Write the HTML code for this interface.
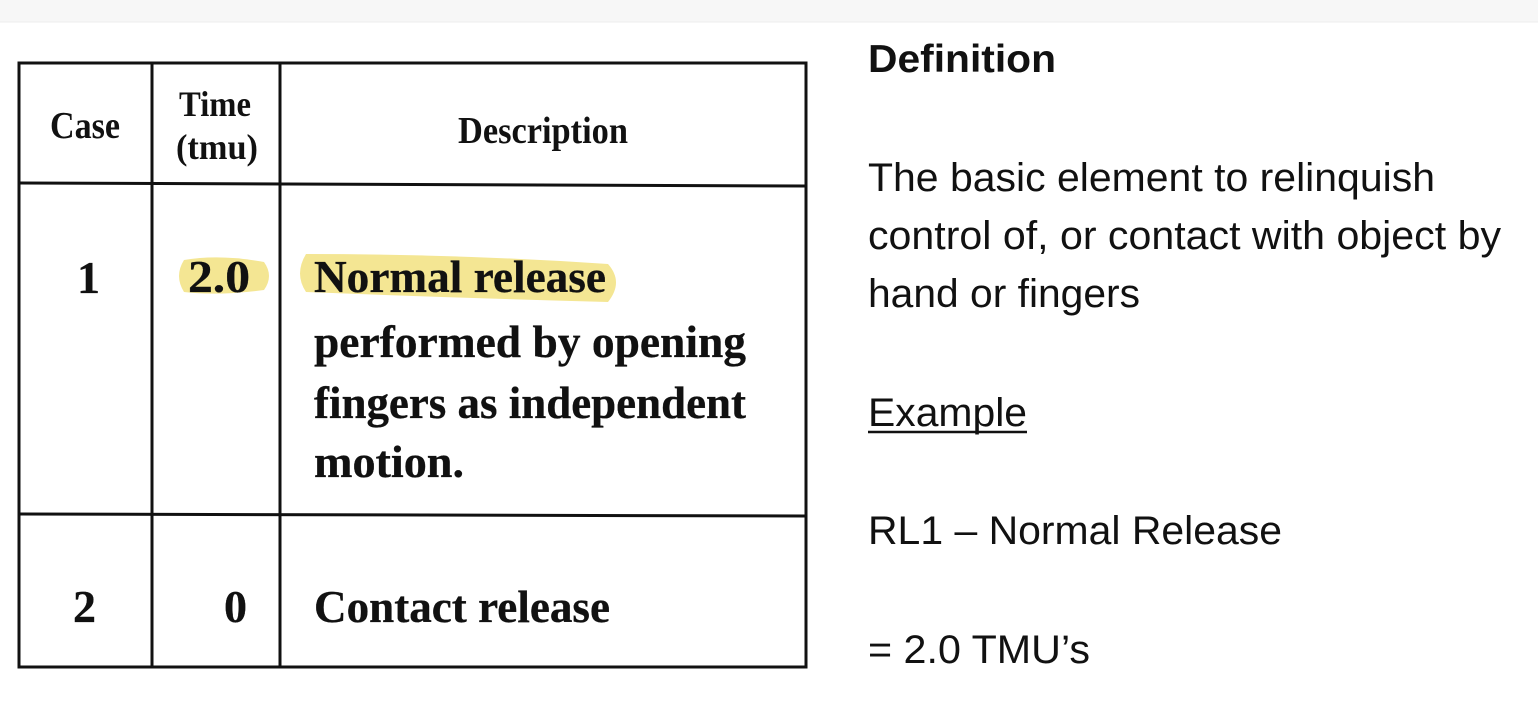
<!DOCTYPE html>
<html><head><style>html,body{margin:0;padding:0;background:#fff}svg{display:block}</style></head>
<body>
<svg width="1538" height="715" xmlns="http://www.w3.org/2000/svg">
<rect x="0" y="0" width="1538" height="22" fill="#f7f7f7"/>
<line x1="0" y1="22" x2="1538" y2="22" stroke="#eee"/>
<!-- highlights -->
<path d="M184 260 Q220 254 264 262 Q274 276 264 290 Q220 296 184 292 Q174 276 184 260 Z" fill="#f4e693"/>
<path d="M306 254 Q460 254 608 264 Q624 282 608 302 Q460 298 306 292 Q294 274 306 254 Z" fill="#f4e693"/>
<!-- table -->
<g stroke="#111" stroke-width="3" fill="none">
<rect x="19" y="63" width="787" height="604"/>
<line x1="19" y1="183" x2="806" y2="186"/>
<line x1="19" y1="514" x2="806" y2="516"/>
<line x1="152" y1="63" x2="152" y2="667"/>
<line x1="280" y1="63" x2="280" y2="667"/>
</g>
<g font-family="Liberation Serif, serif" fill="#111" font-weight="bold">
<text x="50" y="138" font-size="38" textLength="70" lengthAdjust="spacingAndGlyphs">Case</text>
<text x="179" y="116" font-size="36" textLength="72" lengthAdjust="spacingAndGlyphs">Time</text>
<text x="176" y="159" font-size="36" textLength="82" lengthAdjust="spacingAndGlyphs">(tmu)</text>
<text x="458" y="143" font-size="38" textLength="170" lengthAdjust="spacingAndGlyphs">Description</text>
</g>
<g font-family="Liberation Serif, serif" fill="#111" font-weight="bold" stroke="#111" stroke-width="0.3">
<text x="77" y="293" font-size="46">1</text>
<text x="188" y="292" font-size="46" textLength="62" lengthAdjust="spacingAndGlyphs">2.0</text>
<text x="314" y="292" font-size="46" textLength="292" lengthAdjust="spacingAndGlyphs">Normal release</text>
<text x="314" y="357" font-size="46" textLength="432" lengthAdjust="spacingAndGlyphs">performed by opening</text>
<text x="314" y="418" font-size="46" textLength="432" lengthAdjust="spacingAndGlyphs">fingers as independent</text>
<text x="314" y="477" font-size="46" textLength="150" lengthAdjust="spacingAndGlyphs">motion.</text>
<text x="73" y="622" font-size="46">2</text>
<text x="224" y="622" font-size="46">0</text>
<text x="314" y="622" font-size="46" textLength="296" lengthAdjust="spacingAndGlyphs">Contact release</text>
</g>
<g font-family="Liberation Sans, sans-serif" fill="#111" font-size="40">
<text x="868" y="72" font-weight="bold" font-size="39" textLength="188" lengthAdjust="spacingAndGlyphs">Definition</text>
<text x="868" y="191" textLength="567" lengthAdjust="spacingAndGlyphs">The basic element to relinquish</text>
<text x="868" y="249" textLength="633" lengthAdjust="spacingAndGlyphs">control of, or contact with object by</text>
<text x="868" y="307" textLength="272" lengthAdjust="spacingAndGlyphs">hand or fingers</text>
<text x="868" y="426" textLength="159" lengthAdjust="spacingAndGlyphs">Example</text>
<line x1="868" y1="432" x2="1027" y2="432" stroke="#111" stroke-width="2.5"/>
<text x="868" y="544" textLength="414" lengthAdjust="spacingAndGlyphs">RL1 – Normal Release</text>
<text x="868" y="663" textLength="222" lengthAdjust="spacingAndGlyphs">= 2.0 TMU’s</text>
</g>
</svg>
</body></html>
